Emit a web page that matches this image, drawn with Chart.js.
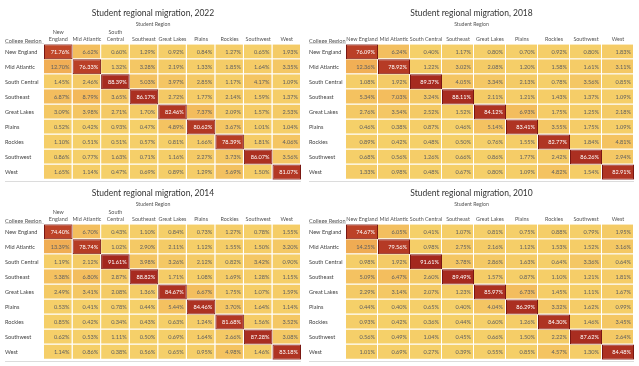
<!DOCTYPE html>
<html>
<head>
<meta charset="utf-8">
<script src="https://cdn.jsdelivr.net/npm/chart.js@4/dist/chart.umd.min.js"></script>
<style>
  html, body { margin: 0; padding: 0; background: #fff; }
  body { width: 639px; height: 366px; position: relative; overflow: hidden; }
  .panel { position: absolute; }
</style>
</head>
<body>
<div class="panel" style="left:0;top:0;width:306px;height:183px"><canvas id="c2022"></canvas></div>
<div class="panel" style="left:304px;top:0;width:335px;height:183px"><canvas id="c2018"></canvas></div>
<div class="panel" style="left:0;top:180px;width:306px;height:183px"><canvas id="c2014"></canvas></div>
<div class="panel" style="left:304px;top:180px;width:335px;height:183px"><canvas id="c2010"></canvas></div>
<script>
// ---- Data ----
const collegeRegions = ["New England","Mid Atlantic","South Central","Southeast","Great Lakes","Plains","Rockies","Southwest","West"];
const studentRegions = ["New England","Mid Atlantic","South Central","Southeast","Great Lakes","Plains","Rockies","Southwest","West"];
const headerNarrow = [["New","England"],"Mid Atlantic",["South","Central"],"Southeast","Great Lakes","Plains","Rockies","Southwest","West"];
const headerWide = ["New England","Mid Atlantic","South Central","Southeast","Great Lakes","Plains","Rockies","Southwest","West"];

// rows = college region, columns = student region (percent)
const values2022 = [
  [71.76, 6.62, 0.60, 1.29, 0.92, 0.84, 1.27, 0.65, 1.93],
  [12.70, 76.33, 1.32, 3.28, 2.19, 1.33, 1.85, 1.64, 3.35],
  [1.45, 2.46, 88.39, 5.03, 3.97, 2.85, 1.17, 4.17, 1.09],
  [6.87, 8.79, 3.65, 86.17, 2.72, 1.77, 2.14, 1.59, 1.37],
  [3.09, 3.98, 2.71, 1.70, 82.46, 7.37, 2.09, 1.57, 2.53],
  [0.52, 0.42, 0.93, 0.47, 4.89, 80.62, 3.67, 1.01, 1.04],
  [1.10, 0.51, 0.51, 0.57, 0.81, 1.66, 78.39, 1.81, 4.06],
  [0.86, 0.77, 1.63, 0.71, 1.16, 2.27, 3.73, 86.07, 3.56],
  [1.65, 1.14, 0.47, 0.69, 0.89, 1.29, 5.69, 1.50, 81.07]
];
const values2018 = [
  [76.09, 6.24, 0.40, 1.17, 0.80, 0.70, 0.92, 0.80, 1.83],
  [12.36, 78.92, 1.22, 3.02, 2.08, 1.20, 1.58, 1.61, 3.11],
  [1.08, 1.92, 89.37, 4.05, 3.34, 2.13, 0.78, 3.56, 0.85],
  [5.34, 7.03, 3.24, 88.11, 2.11, 1.21, 1.43, 1.37, 1.09],
  [2.76, 3.54, 2.52, 1.52, 84.12, 6.93, 1.75, 1.25, 2.18],
  [0.46, 0.38, 0.87, 0.46, 5.14, 83.41, 3.55, 1.75, 1.09],
  [0.89, 0.42, 0.48, 0.50, 0.76, 1.55, 82.77, 1.84, 4.81],
  [0.68, 0.56, 1.26, 0.66, 0.86, 1.77, 2.42, 86.26, 2.94],
  [1.33, 0.98, 0.48, 0.67, 0.80, 1.09, 4.82, 1.54, 82.91]
];
const values2014 = [
  [74.40, 6.70, 0.43, 1.10, 0.84, 0.73, 1.27, 0.78, 1.55],
  [13.39, 78.74, 1.02, 2.90, 2.11, 1.12, 1.55, 1.50, 3.20],
  [1.19, 2.12, 91.61, 3.98, 3.26, 2.12, 0.82, 3.42, 0.90],
  [5.38, 6.80, 2.87, 88.82, 1.71, 1.08, 1.69, 1.28, 1.15],
  [2.49, 3.41, 2.08, 1.36, 84.67, 6.67, 1.75, 1.07, 1.59],
  [0.53, 0.41, 0.78, 0.44, 5.44, 84.46, 3.70, 1.64, 1.14],
  [0.85, 0.42, 0.34, 0.43, 0.63, 1.24, 81.68, 1.56, 3.52],
  [0.62, 0.53, 1.11, 0.50, 0.69, 1.64, 2.66, 87.28, 3.08],
  [1.14, 0.86, 0.38, 0.56, 0.65, 0.95, 4.98, 1.46, 83.18]
];
const values2010 = [
  [74.67, 6.05, 0.41, 1.07, 0.81, 0.75, 0.88, 0.79, 1.95],
  [14.25, 79.56, 0.98, 2.75, 2.16, 1.12, 1.53, 1.52, 3.16],
  [0.98, 1.92, 91.61, 3.78, 2.86, 1.63, 0.64, 3.36, 0.64],
  [5.09, 6.47, 2.60, 89.49, 1.57, 0.87, 1.10, 1.21, 1.81],
  [2.29, 3.14, 2.07, 1.23, 85.97, 6.73, 1.45, 1.11, 1.67],
  [0.44, 0.40, 0.65, 0.40, 4.04, 86.29, 3.32, 1.62, 0.99],
  [0.93, 0.42, 0.36, 0.44, 0.60, 1.26, 84.30, 1.46, 3.45],
  [0.56, 0.49, 1.04, 0.45, 0.66, 1.50, 2.22, 87.62, 2.64],
  [1.01, 0.69, 0.27, 0.39, 0.55, 0.85, 4.57, 1.30, 84.48]
];

// ---- Styling helpers ----
const FONT = "Lato, 'Open Sans', sans-serif";
const colorStops = [
  [0.00, [245, 209, 106]],
  [0.12, [242, 177, 86]],
  [0.50, [214, 112, 58]],
  [0.80, [190, 68, 40]],
  [1.00, [162, 38, 30]]
];
function colorFor(v) {
  const t = Math.max(0, Math.min(1, v / 92));
  for (let i = 1; i < colorStops.length; i++) {
    const [t1, c1] = colorStops[i];
    const [t0, c0] = colorStops[i - 1];
    if (t <= t1) {
      const f = (t - t0) / (t1 - t0);
      const c = c0.map((a, k) => Math.round(a + (c1[k] - a) * f));
      return `rgb(${c[0]},${c[1]},${c[2]})`;
    }
  }
  return 'rgb(162,38,30)';
}

const cellPlugin = {
  id: 'cells',
  afterDatasetsDraw(chart) {
    const ctx = chart.ctx;
    const matrix = chart.options.plugins.cells.matrix;
    const area = chart.chartArea;
    const yScale = chart.scales.y;
    ctx.save();
    ctx.font = `5.6px ${FONT}`;
    ctx.textAlign = 'right';
    ctx.textBaseline = 'middle';
    chart.data.datasets.forEach((ds, j) => {
      const meta = chart.getDatasetMeta(j);
      meta.data.forEach((el, i) => {
        const v = matrix[i][j];
        ctx.fillStyle = v > 40 ? '#ffffff' : '#606060';
        ctx.fillText(v.toFixed(2) + '%', el.x - 3, el.y + 0.5);
      });
    });
    // "College Region" header and separator lines
    ctx.textAlign = 'left';
    ctx.textBaseline = 'middle';
    ctx.fillStyle = '#555';
    ctx.fillText('College Region', yScale.left, area.top - 3.5);
    ctx.strokeStyle = '#dcdcdc';
    ctx.lineWidth = 1;
    ctx.beginPath();
    ctx.moveTo(yScale.left, Math.round(area.top) - 0.5);
    ctx.lineTo(area.left, Math.round(area.top) - 0.5);
    ctx.moveTo(yScale.left, Math.round(area.bottom) + 1.5);
    ctx.lineTo(area.right, Math.round(area.bottom) + 1.5);
    ctx.stroke();
    ctx.restore();
  }
};

function makeChart(id, year, matrix, headers, yWidth) {
  const datasets = studentRegions.map((s, j) => ({
    label: s,
    data: collegeRegions.map(() => 1),
    backgroundColor: collegeRegions.map((c, i) => colorFor(matrix[i][j])),
    borderColor: collegeRegions.map((c, i) => i === j ? '#7a1712' : '#ffffff'),
    borderWidth: (ctx) => ctx.dataIndex === j
      ? { top: 1, bottom: 1, left: 1, right: 1 }
      : { top: 0, bottom: 1, left: 0, right: 1 },
    borderSkipped: false,
    inflateAmount: 0,
    barPercentage: 1,
    categoryPercentage: 1
  }));
  return new Chart(document.getElementById(id), {
    type: 'bar',
    data: { labels: collegeRegions, datasets },
    plugins: [cellPlugin],
    options: {
      indexAxis: 'y',
      responsive: true,
      maintainAspectRatio: false,
      animation: false,
      devicePixelRatio: 1,
      layout: { padding: { left: 5, right: 5, top: 0, bottom: 2 } },
      plugins: {
        legend: { display: false },
        tooltip: { enabled: false },
        title: {
          display: true,
          text: 'Student regional migration, ' + year,
          color: '#333',
          font: { family: FONT, size: 8.5, weight: 'normal', lineHeight: 1.2 },
          padding: { top: 7.9, bottom: 0 }
        },
        subtitle: {
          display: true,
          text: 'Student Region',
          color: '#555',
          font: { family: FONT, size: 5.2, lineHeight: 1.2 },
          padding: { top: 3.5, bottom: 0 },
          align: 'center'
        },
        cells: { matrix }
      },
      scales: {
        x: {
          type: 'linear',
          position: 'top',
          stacked: true,
          min: 0,
          max: 9,
          afterBuildTicks: (scale) => {
            scale.ticks = headers.map((h, k) => ({ value: k + 0.5 }));
          },
          afterFit: (scale) => { scale.height = 16.4; },
          ticks: {
            autoSkip: false,
            maxRotation: 0,
            padding: 1.5,
            color: '#555',
            font: { family: FONT, size: 5.4, lineHeight: 1.25 },
            callback: (val, idx) => headers[idx]
          },
          grid: { display: false, drawTicks: false },
          border: { display: false }
        },
        y: {
          type: 'category',
          stacked: true,
          afterFit: (scale) => { scale.width = yWidth; },
          ticks: {
            crossAlign: 'far',
            padding: 0,
            color: '#444',
            font: { family: FONT, size: 5.6 }
          },
          grid: { display: false, drawTicks: false },
          border: { display: false }
        }
      }
    }
  });
}

makeChart('c2022', 2022, values2022, headerNarrow, 39);
makeChart('c2018', 2018, values2018, headerWide, 37);
makeChart('c2014', 2014, values2014, headerNarrow, 39);
makeChart('c2010', 2010, values2010, headerWide, 37);
</script>
</body>
</html>
